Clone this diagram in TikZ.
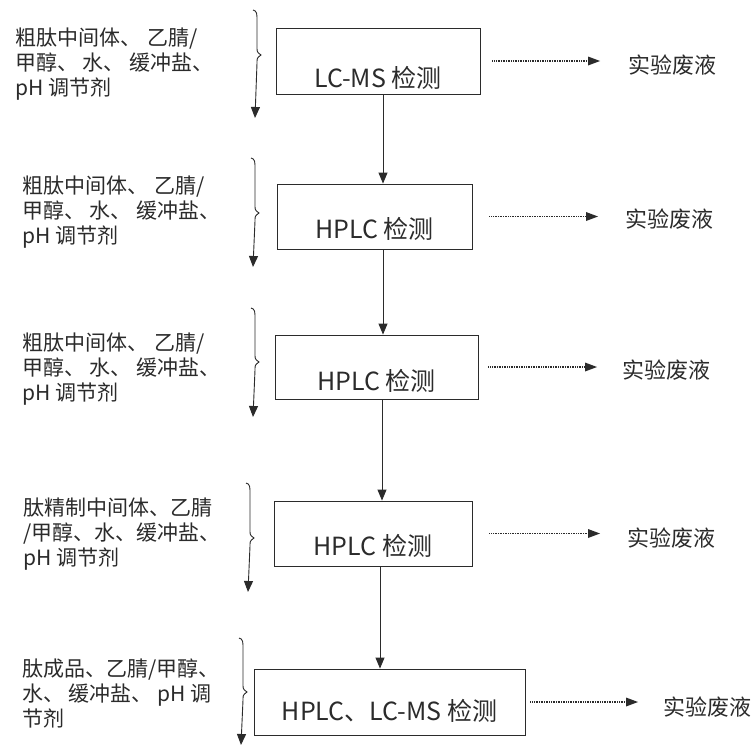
\documentclass[tikz,border=0pt]{standalone}
\usepackage{fontspec}
\setmainfont{Noto Sans CJK SC}
\usetikzlibrary{arrows.meta}
\definecolor{ink}{HTML}{2B2B2B}
\newcommand\bracearr[4]{% x, top, tip, end
  \draw[bracepath] ({#1-4},{#2}) .. controls ({#1},{#2+1}) and ({#1},{#2+4}) .. ({#1},{#2+10})
    -- ({#1},{#3-8}) .. controls ({#1},{#3-3}) .. ({#1+4},{#3})
    .. controls ({#1},{#3+3}) .. ({#1},{#3+8}) -- ({#1-2},{#4});}
\begin{document}
\begin{tikzpicture}[x=1pt,y=-1pt,
  box/.style={draw=ink, line width=0.9pt, inner sep=0pt, text depth=0pt, text=ink,
    font=\fontsize{25}{30}\selectfont},
  lefttxt/.style={anchor=west, align=left, inner sep=0pt, text=ink,
    font=\fontsize{21}{25}\selectfont},
  waste/.style={anchor=west, inner sep=0pt, text=ink, font=\fontsize{22}{26}\selectfont},
  arr/.style={draw=ink, line width=0.9pt, -{Triangle[length=11pt,width=9pt]}},
  dotarr/.style={draw=ink, line width=1.1pt, dash pattern=on 1pt off 0.7pt,
    -{Triangle[length=12pt,width=9pt,line width=0pt]}},
  bracepath/.style={draw=ink, line width=0.9pt, -{Triangle[length=11pt,width=9pt]}}]
\useasboundingbox[fill=white] (0,0) rectangle (755,747);

% boxes
\node[box, minimum width=204, minimum height=66, text height=52] (b1) at (378,61) {LC-MS 检测};
\node[box, minimum width=195, minimum height=65, text height=43] (b2) at (374.5,216.5) {HPLC 检测};
\node[box, minimum width=203, minimum height=64, text height=46] (b3) at (376.5,367) {HPLC 检测};
\node[box, minimum width=198, minimum height=65, text height=43] (b4) at (373,533.5) {HPLC 检测};
\node[box, minimum width=271, minimum height=66, text height=36] (b5) at (389.5,702) {HPLC、LC-MS 检测};

% left texts
\node[lefttxt] (t1) at (15,64) {粗肽中间体、\hspace{6pt}乙腈/\\甲醇、 水、 缓冲盐、\\pH 调节剂};
\node[lefttxt] (t2) at (22,212) {粗肽中间体、\hspace{6pt}乙腈/\\甲醇、 水、 缓冲盐、\\pH 调节剂};
\node[lefttxt] (t3) at (22,369) {粗肽中间体、\hspace{6pt}乙腈/\\甲醇、 水、 缓冲盐、\\pH 调节剂};
\node[lefttxt] (t4) at (23,534) {肽精制中间体、乙腈\\/甲醇、水、缓冲盐、\\pH 调节剂};
\node[lefttxt] (t5) at (22,693) {肽成品、乙腈/甲醇、\\水、 缓冲盐、 pH 调\\节剂};

% braces with arrows
\bracearr{257}{10}{55}{118}
\bracearr{255}{158}{213}{267}
\bracearr{255}{308}{362}{417}
\bracearr{250}{483}{538}{592}
\bracearr{243}{638}{692}{745}

% vertical arrows
\coordinate (a1) at (383,0);
\coordinate (a2) at (383,0);
\coordinate (a3) at (382,0);
\coordinate (a4) at (380,0);
\draw[arr] (b1.south -| a1) -- (b2.north -| a1);
\draw[arr] (b2.south -| a2) -- (b3.north -| a2);
\draw[arr] (b3.south -| a3) -- (b4.north -| a3);
\draw[arr] (b4.south -| a4) -- (b5.north -| a4);

% waste
\node[waste] (w1) at (628,65) {实验废液};
\node[waste] (w2) at (625,219) {实验废液};
\node[waste] (w3) at (622,370) {实验废液};
\node[waste] (w4) at (627,538) {实验废液};
\node[waste] (w5) at (663,707) {实验废液};
\coordinate (e1) at (600,0);
\coordinate (e2) at (598,0);
\coordinate (e3) at (597,0);
\coordinate (e4) at (600,0);
\coordinate (e5) at (638,0);
\draw[dotarr] ([xshift=12pt]b1.east) -- (e1 |- b1.east);
\draw[dotarr] ([xshift=17pt]b2.east) -- (e2 |- b2.east);
\draw[dotarr] ([xshift=10pt]b3.east) -- (e3 |- b3.east);
\draw[dotarr] ([xshift=17pt]b4.east) -- (e4 |- b4.east);
\draw[dotarr] ([xshift=5pt]b5.east) -- (e5 |- b5.east);
\end{tikzpicture}
\end{document}
